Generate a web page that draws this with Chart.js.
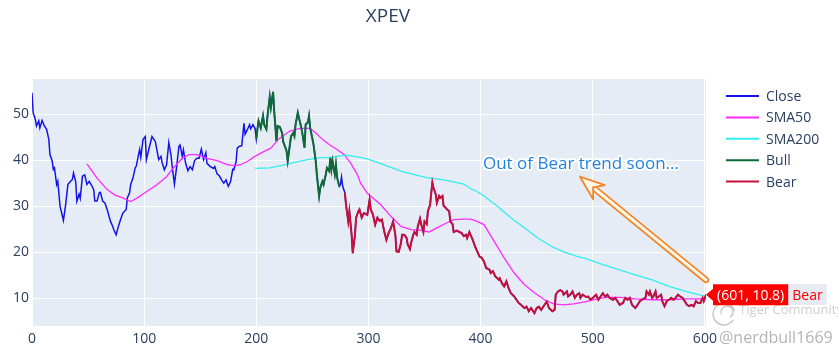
<!DOCTYPE html>
<html><head><meta charset="utf-8">
<script src="https://cdn.jsdelivr.net/npm/chart.js@4/dist/chart.umd.min.js"></script>
<style>html,body{margin:0;padding:0;background:#fff;}#wrap{width:838px;height:355px;position:relative}</style>
</head><body><div id="wrap"><canvas id="c" width="838" height="355"></canvas></div>
<script>
const titleText = 'XPEV';
const closeX = [0,1,3,4,6,7,9,11,13,15,16,18,19,20,22,23,25,28,30,32,34,36,37,39,40,42,43,45,47,49,51,53,55,56,58,60,61,63,65,67,70,72,73,75,77,79,81,84,85,87,88,90,92,93,95,96,97,99,101,102,104,107,109,110,113,115,116,118,120,122,124,125,127,129,131,132,134,135,137,139,141,143,145,147,149,151,153,155,156,159,162,163,165,167,169,171,173,175,177,179,180,182,183,185,187,189,190,192,194,195,197,199,200,201,202,204,206,207,209,210,212,213,215,216,218,219,221,223,224,227,228,230,231,233,234,235,237,238,240,241,243,244,246,247,248,250,251,253,254,256,257,259,260,262,263,265,266,267,268,270,271,272,274,275,276,277,279,280,282,283,285,286,288,289,291,292,294,296,299,301,302,304,306,308,310,312,314,316,318,320,322,324,325,327,329,330,332,334,335,337,338,340,341,343,344,346,347,349,350,352,353,355,356,357,358,360,361,363,364,366,367,369,370,372,373,375,376,379,381,383,385,387,388,390,391,393,395,397,399,401,403,405,408,409,411,413,416,417,419,421,423,425,427,430,432,434,436,439,441,443,445,448,450,452,454,457,459,461,464,466,467,469,471,473,474,477,478,480,482,484,486,488,489,491,494,496,498,500,503,505,507,509,511,513,515,518,520,522,524,527,529,531,533,535,538,540,542,544,547,548,550,551,553,554,556,557,559,561,562,564,566,568,570,572,574,576,578,580,582,584,586,588,590,592,594,596,598,599,601];
const closeY = [54.6,50.3,48.8,47.4,48.5,47.0,48.6,47.4,46.7,44.5,41.2,39.8,38.0,38.3,34.7,35.4,30.0,26.9,30.3,34.7,35.3,35.8,37.2,35.3,31.1,32.6,31.7,36.5,36.8,34.7,35.4,34.6,33.6,31.1,31.1,32.9,33.0,31.1,30.7,29.3,26.7,25.6,24.9,23.8,25.6,27.1,28.5,29.3,31.8,32.9,34.7,36.1,38.3,38.7,41.2,42.3,40.6,44.5,45.1,40.1,42.2,45.1,44.4,44.0,40.1,40.8,39.5,37.9,39.0,43.8,41.0,38.6,34.8,38.6,43.0,43.3,40.8,42.2,39.3,37.7,38.6,37.9,39.9,40.4,40.4,42.4,40.1,41.6,39.3,38.6,38.2,38.6,37.0,36.6,35.7,35.0,35.7,34.3,35.3,38.0,37.9,39.7,42.6,43.0,43.1,48.0,45.6,46.6,47.7,46.8,47.7,46.8,44.6,46.7,48.5,47.0,49.6,47.7,46.7,49.6,53.7,51.4,54.8,50.5,44.1,47.4,47.2,45.9,44.0,42.0,39.8,43.4,45.2,45.9,45.2,47.7,50.3,49.2,47.2,45.9,42.7,47.7,48.2,49.6,47.0,44.7,43.4,39.8,36.9,32.2,34.0,35.4,34.7,36.9,38.3,37.6,40.5,38.0,39.8,36.9,39.0,36.3,34.3,34.7,36.3,34.3,32.9,30.3,26.7,28.9,23.8,19.8,23.8,27.5,28.9,29.3,27.5,28.5,28.1,31.4,29.3,28.2,26.0,27.5,26.8,27.1,24.6,22.7,24.2,25.2,26.7,23.8,20.2,20.1,22.0,23.8,23.8,23.1,21.7,20.7,22.0,23.8,24.4,23.8,25.6,27.3,26.1,24.4,26.7,26.1,28.9,30.3,32.9,35.1,34.0,32.6,30.7,32.2,31.8,32.2,30.1,29.6,29.3,28.9,26.7,26.1,24.4,24.7,24.4,24.2,23.5,23.8,23.1,24.4,23.8,22.7,21.3,20.2,19.1,18.8,18.0,16.6,16.2,15.5,15.9,14.8,14.1,14.4,13.3,12.6,13.7,12.2,11.1,10.4,9.7,9.0,8.6,7.9,8.2,7.2,7.9,6.8,7.9,8.2,7.5,8.6,9.3,7.9,7.2,7.5,10.8,11.5,11.8,11.5,10.8,11.5,10.4,10.8,11.5,10.1,10.8,11.1,10.1,10.8,10.3,10.4,9.7,10.1,10.8,9.7,10.4,11.1,10.4,10.8,10.1,9.7,10.1,9.4,8.6,9.0,10.1,9.7,10.1,8.6,7.9,8.6,9.4,9.7,10.1,11.5,10.8,11.5,10.1,10.4,11.5,10.1,10.4,10.8,9.4,8.3,9.4,9.7,10.1,9.7,10.1,10.8,10.4,10.1,9.4,8.6,8.3,8.6,8.3,9.4,9.0,9.0,10.1,9.4,10.8];
const sma50X = [49,58,67,74,81,88,94,100,111,120,126,134,140,147,156,165,174,180,186,192,198,207,213,220,230,239,248,253,259,265,272,278,284,290,293,299,311,320,329,338,346,354,361,370,376,385,391,396,403,412,421,430,439,448,457,465,474,483,494,506,513,524,538,553,568,583,601];
const sma50Y = [39.2,36.1,33.6,32.4,31.8,31.0,31.8,32.8,34.6,36.4,38.3,40.4,41.2,41.2,40.4,39.9,39.0,38.8,39.0,39.7,40.7,41.9,42.6,44.6,46.3,46.9,46.9,45.9,44.5,43.4,42.3,41.3,39.4,36.9,35.0,32.8,30.3,27.8,25.6,24.9,24.8,24.4,25.3,26.4,27.1,27.2,27.2,26.8,26.0,22.4,18.8,15.5,13.0,11.2,9.7,8.8,8.6,8.8,9.3,10.0,10.2,10.2,9.9,9.7,9.7,9.9,9.9];
const sma200X = [199,212,224,239,254,266,280,293,298,305,317,329,340,352,364,376,385,391,396,403,415,427,439,451,463,474,486,494,509,524,538,553,568,583,598,601];
const sma200Y = [38.2,38.3,38.9,39.8,40.5,40.6,41.1,40.6,40.3,39.8,38.7,37.6,36.9,36.2,35.8,35.3,34.8,33.8,33.3,32.2,30.0,27.5,25.3,23.1,21.3,20.1,19.1,18.6,17.3,16.2,15.1,14.0,12.6,11.5,10.6,10.4];
const bullRange = [200, 274];
const bearRange = [278, 601];
const xTicks = [0,100,200,300,400,500,600];
const yTicks = [10,20,30,40,50];
const annotText = 'Out of Bear trend soon...';
const annotTextPos = [489.5, 39.2];
const annotArrowTip = [488.6, 36.4];
const annotArrowTail = [601, 14.0];
const hoverPoint = [601, 10.8];
const watermark1 = 'Tiger Community';
const watermark2 = '@nerdbull1669';

const FONT = '"Open Sans", Arial, sans-serif';
const pts = (xs, ys) => xs.map((x, i) => ({x: x, y: ys[i]}));
const inRange = (r) => pts(closeX, closeY).filter(p => p.x >= r[0] && p.x <= r[1]);

const bgPlugin = {
  id: 'bg',
  beforeDraw(chart) {
    const {ctx, chartArea: a} = chart;
    ctx.save();
    ctx.fillStyle = '#fff';
    ctx.fillRect(0, 0, chart.width, chart.height);
    ctx.fillStyle = '#e5ecf6';
    ctx.fillRect(a.left, a.top, a.right - a.left, a.bottom - a.top);
    ctx.restore();
  }
};

const overlayPlugin = {
  id: 'overlay',
  afterDraw(chart) {
    const ctx = chart.ctx;
    const xs = chart.scales.x, ys = chart.scales.y;
    ctx.save();
    ctx.fillStyle = '#2a3f5f';
    ctx.font = '19px ' + FONT;
    ctx.textAlign = 'center';
    ctx.textBaseline = 'middle';
    ctx.fillText(titleText, 388, 17);

    ctx.textAlign = 'left';
    ctx.font = '14px ' + FONT;
    chart.data.datasets.forEach((ds, i) => {
      const y = 96 + i * 21.4;
      ctx.strokeStyle = ds.borderColor;
      ctx.lineWidth = 2;
      ctx.beginPath(); ctx.moveTo(726, y); ctx.lineTo(759, y); ctx.stroke();
      ctx.fillStyle = '#2a3f5f';
      ctx.fillText(ds.label, 766, y + 1);
    });

    const tx = xs.getPixelForValue(annotArrowTip[0]), ty = ys.getPixelForValue(annotArrowTip[1]);
    const bx = xs.getPixelForValue(annotArrowTail[0]), by = ys.getPixelForValue(annotArrowTail[1]);
    const dx = bx - tx, dy = by - ty, L = Math.hypot(dx, dy);
    const ux = dx / L, uy = dy / L, nx = -uy, ny = ux;
    const hl = 24.6, hw = 9.2, notch = 17;
    const w1 = [tx + ux * hl + nx * hw, ty + uy * hl + ny * hw];
    const w2 = [tx + ux * hl - nx * hw, ty + uy * hl - ny * hw];
    const nt = [tx + ux * notch, ty + uy * notch];
    ctx.lineCap = 'round'; ctx.lineJoin = 'round';
    ctx.strokeStyle = '#f0872a'; ctx.lineWidth = 6.5;
    ctx.beginPath(); ctx.moveTo(nt[0], nt[1]); ctx.lineTo(bx, by); ctx.stroke();
    ctx.strokeStyle = '#fff6e6'; ctx.lineWidth = 3;
    ctx.beginPath(); ctx.moveTo(nt[0] + ux * 2, nt[1] + uy * 2); ctx.lineTo(bx, by); ctx.stroke();
    ctx.beginPath();
    ctx.moveTo(tx, ty); ctx.lineTo(w1[0], w1[1]); ctx.lineTo(nt[0], nt[1]); ctx.lineTo(w2[0], w2[1]); ctx.closePath();
    ctx.fillStyle = '#fff6e6'; ctx.fill();
    ctx.strokeStyle = '#f0872a'; ctx.lineWidth = 1.8; ctx.stroke();

    const ax = xs.getPixelForValue(annotTextPos[0]), ay = ys.getPixelForValue(annotTextPos[1]);
    ctx.font = '17px ' + FONT;
    ctx.textAlign = 'center'; ctx.textBaseline = 'middle';
    ctx.strokeStyle = 'rgba(255,255,255,0.95)'; ctx.lineWidth = 4;
    ctx.strokeText(annotText, ax, ay);
    ctx.fillStyle = '#2282dc';
    ctx.fillText(annotText, ax, ay);

    const lx = 724, lyc = 314;
    ctx.strokeStyle = 'rgba(170,170,170,0.7)'; ctx.lineWidth = 1.3;
    ctx.beginPath(); ctx.arc(lx, lyc, 11, 0.2 * Math.PI, 1.9 * Math.PI); ctx.stroke();
    ctx.beginPath(); ctx.arc(lx + 3, lyc - 2, 6, 0.9 * Math.PI, 2.3 * Math.PI); ctx.stroke();
    ctx.textAlign = 'left'; ctx.textBaseline = 'middle';
    ctx.font = '13px ' + FONT;
    ctx.fillStyle = 'rgba(185,185,185,0.7)';
    ctx.fillText(watermark1, 739, 310);
    ctx.font = '16px ' + FONT;
    ctx.fillStyle = '#b4b4b4';
    ctx.fillText(watermark2, 719, 338);

    const hx = xs.getPixelForValue(hoverPoint[0]), hy = ys.getPixelForValue(hoverPoint[1]);
    const bearDs = chart.data.datasets[4];
    const valTxt = '(' + hoverPoint[0] + ', ' + hoverPoint[1].toFixed(1) + ')';
    ctx.font = '14px ' + FONT;
    const tw = ctx.measureText(valTxt).width;
    const bx0 = hx + 7, bw = tw + 8, bh = 21;
    ctx.fillStyle = '#e6ebf3';
    const nw = ctx.measureText(bearDs.label).width + 8;
    ctx.fillRect(bx0 + bw, hy - bh / 2, nw, bh);
    ctx.fillStyle = '#ff0000';
    ctx.beginPath();
    ctx.moveTo(hx, hy); ctx.lineTo(bx0, hy - 6); ctx.lineTo(bx0, hy - bh / 2);
    ctx.lineTo(bx0 + bw, hy - bh / 2); ctx.lineTo(bx0 + bw, hy + bh / 2);
    ctx.lineTo(bx0, hy + bh / 2); ctx.lineTo(bx0, hy + 6); ctx.closePath();
    ctx.fill();
    ctx.fillStyle = '#ffffff';
    ctx.textAlign = 'left'; ctx.textBaseline = 'middle';
    ctx.fillText(valTxt, bx0 + 4, hy + 1);
    ctx.fillStyle = '#ff0000';
    ctx.fillText(bearDs.label, bx0 + bw + 4, hy + 1);
    ctx.restore();
  }
};

new Chart(document.getElementById('c'), {
  type: 'line',
  data: {
    datasets: [
      {label: 'Close', data: pts(closeX, closeY), borderColor: '#1414e6', borderWidth: 1.5, order: 5},
      {label: 'SMA50', data: pts(sma50X, sma50Y), borderColor: '#ff2bff', borderWidth: 1.3, order: 4},
      {label: 'SMA200', data: pts(sma200X, sma200Y), borderColor: '#33eeee', borderWidth: 1.3, order: 3},
      {label: 'Bull', data: inRange(bullRange), borderColor: '#0f6b33', borderWidth: 2, order: 2},
      {label: 'Bear', data: inRange(bearRange), borderColor: '#c4103a', borderWidth: 2, order: 1}
    ]
  },
  options: {
    responsive: false,
    animation: false,
    devicePixelRatio: 1,
    parsing: false,
    elements: {point: {radius: 0}, line: {tension: 0, fill: false}},
    layout: {padding: {top: 79, right: 132, left: 0, bottom: 0}},
    plugins: {legend: {display: false}, title: {display: false}, tooltip: {enabled: false}},
    scales: {
      x: {
        type: 'linear', min: 0, max: 601,
        afterBuildTicks: s => { s.ticks = xTicks.map(v => ({value: v})); },
        afterFit: s => { s.height = 29; },
        grid: {color: '#ffffff', lineWidth: 1, drawTicks: false},
        border: {display: false},
        ticks: {padding: 5, color: '#2a3f5f', font: {family: FONT, size: 14}, maxRotation: 0, autoSkip: false, callback: v => String(v)}
      },
      y: {
        type: 'linear', min: 4, max: 57.6,
        afterBuildTicks: s => { s.ticks = yTicks.map(v => ({value: v})); },
        afterFit: s => { s.width = 32; },
        grid: {color: '#ffffff', lineWidth: 1, drawTicks: false},
        border: {display: false},
        ticks: {padding: 3, color: '#2a3f5f', font: {family: FONT, size: 14}, autoSkip: false, callback: v => String(v)}
      }
    }
  },
  plugins: [bgPlugin, overlayPlugin]
});
</script>
</body></html>
